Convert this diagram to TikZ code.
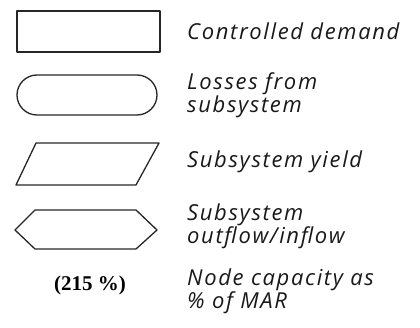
\documentclass[tikz,border=0pt]{standalone}
\usepackage{fontspec}
\newfontfamily\legendfont[LetterSpace=7.5]{Open Sans}
\newfontfamily\numfont{Liberation Serif}
\begin{document}
\begin{tikzpicture}[x=1pt,y=-1pt,
  shapeline/.style={draw=black!85,line width=1.3pt,line join=round},
  legtext/.style={anchor=west,inner sep=0pt,align=left,font=\legendfont\itshape\fontsize{22}{21}\selectfont,text=black!90},
  numtext/.style={inner sep=0pt,font=\numfont\bfseries\fontsize{21}{21}\selectfont}]
\useasboundingbox (0,0) rectangle (420,328);
% controlled demand
\draw[shapeline] (17,11) rectangle (160,52);
% losses
\draw[shapeline,rounded corners=20pt] (17,75) rectangle (157,115);
% yield
\draw[shapeline] (36,143) -- (159,143) -- (136,185) -- (16,185) -- cycle;
% outflow/inflow
\draw[shapeline] (15,230) -- (35,210) -- (136,210) -- (157,230) -- (136,249) -- (35,249) -- cycle;
% node capacity
\node[numtext] (cap) at (90,285) {(215 \%)};
\node[legtext] (t1) at (187,31) {Controlled demand};
\node[legtext] (t2) at (187,95) {Losses from\\subsystem};
\node[legtext] (t3) at (187,162) {Subsystem yield};
\node[legtext] (t4) at (187,226) {Subsystem\\outflow/inflow};
\node[legtext] (t5) at (187,291) {Node capacity as\\\% of MAR};
\end{tikzpicture}
\end{document}
